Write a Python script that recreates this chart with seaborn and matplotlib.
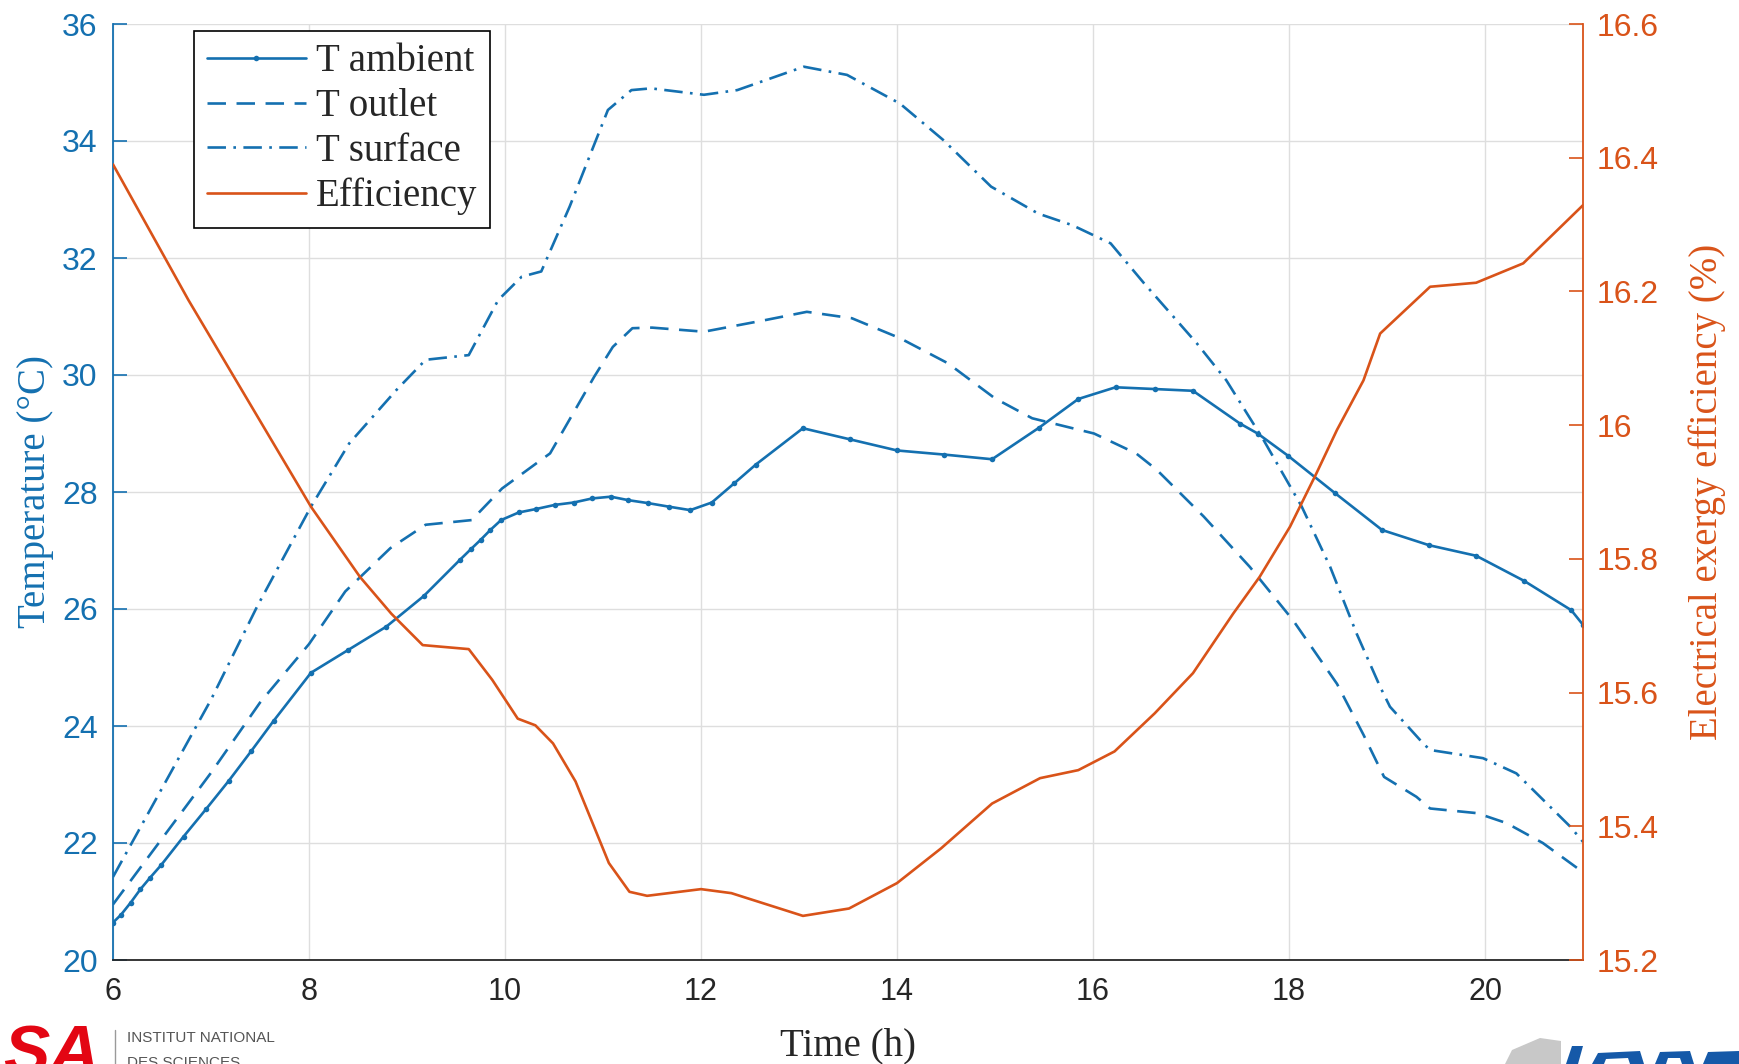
import numpy as np
import pandas as pd
import matplotlib
matplotlib.use("Agg")
import matplotlib.pyplot as plt
import seaborn as sns
from matplotlib.lines import Line2D
from matplotlib.patches import Polygon

# ---------------- data ----------------
t_ambient = [6.0, 6.08, 6.18, 6.28, 6.38, 6.49, 6.72, 6.95, 7.18, 7.41, 7.64, 8.02,
             8.40, 8.79, 9.17, 9.54, 9.65, 9.75, 9.85, 9.96, 10.14, 10.32, 10.51,
             10.70, 10.89, 11.08, 11.26, 11.46, 11.67, 11.89, 12.11, 12.34, 12.56,
             13.04, 13.52, 14.0, 14.48, 14.97, 15.45, 15.85, 16.23, 16.63, 17.02,
             17.5, 17.68, 17.99, 18.47, 18.95, 19.43, 19.91, 20.40, 20.88, 21.0]
T_ambient = [20.64, 20.77, 20.98, 21.21, 21.41, 21.62, 22.11, 22.58, 23.06, 23.57, 24.09, 24.91,
             25.30, 25.70, 26.22, 26.84, 27.02, 27.18, 27.35, 27.52, 27.65, 27.71, 27.78,
             27.82, 27.89, 27.92, 27.86, 27.81, 27.75, 27.69, 27.82, 28.15, 28.47,
             29.09, 28.90, 28.71, 28.64, 28.56, 29.10, 29.59, 29.79, 29.76, 29.73,
             29.17, 29.00, 28.62, 27.98, 27.35, 27.09, 26.91, 26.48, 25.98, 25.73]

t_outlet = [6.0, 7.0, 7.5, 8.0, 8.37, 8.83, 9.19, 9.66, 9.97, 10.32, 10.46, 10.91, 11.10,
            11.30, 11.5, 12.03, 12.66, 13.08, 13.54, 14.03, 14.52, 15.0, 15.38, 16.01,
            16.44, 16.65, 17.13, 17.6, 18.04, 18.49, 18.76, 18.97, 19.30, 19.44, 19.92,
            20.22, 20.59, 21.0]
T_outlet = [20.95, 23.2, 24.4, 25.4, 26.3, 27.04, 27.44, 27.52, 28.06, 28.49, 28.66, 29.97, 30.48,
            30.80, 30.81, 30.74, 30.94, 31.08, 30.97, 30.63, 30.20, 29.60, 29.26, 29.00,
            28.66, 28.38, 27.58, 26.72, 25.81, 24.72, 23.85, 23.13, 22.79, 22.59, 22.51,
            22.34, 22.00, 21.50]

t_surface = [6.0, 7.0, 7.47, 8.02, 8.41, 8.89, 9.19, 9.63, 9.93, 10.17, 10.37, 10.66, 11.05,
             11.29, 11.49, 12.03, 12.37, 13.05, 13.49, 14.03, 14.47, 14.96, 15.44, 15.79,
             16.18, 16.52, 17.06, 17.36, 17.74, 18.13, 18.42, 18.69, 18.93, 19.03, 19.37,
             19.44, 19.98, 20.32, 20.87, 21.0]
T_surface = [21.42, 24.45, 26.04, 27.75, 28.83, 29.74, 30.26, 30.34, 31.28, 31.68, 31.77, 32.88, 34.53,
             34.87, 34.90, 34.79, 34.87, 35.27, 35.13, 34.64, 34.02, 33.22, 32.76, 32.56,
             32.25, 31.57, 30.54, 29.91, 28.89, 27.75, 26.72, 25.58, 24.67, 24.33, 23.70,
             23.59, 23.45, 23.19, 22.28, 22.02]

t_eff = [6.0, 6.77, 8.02, 8.52, 8.84, 9.16, 9.63, 9.87, 10.13, 10.31, 10.49, 10.72, 11.06,
         11.27, 11.45, 12.0, 12.31, 13.04, 13.51, 14.0, 14.45, 14.97, 15.46, 15.85, 16.22,
         16.63, 17.02, 17.43, 17.70, 18.01, 18.28, 18.49, 18.76, 18.93, 19.44, 19.91, 20.39, 21.0]
efficiency = [16.39, 16.187, 15.878, 15.773, 15.718, 15.671, 15.665, 15.619, 15.561, 15.551, 15.524, 15.467, 15.345,
              15.302, 15.296, 15.306, 15.300, 15.266, 15.277, 15.315, 15.367, 15.434, 15.472, 15.484, 15.512,
              15.569, 15.629, 15.718, 15.773, 15.848, 15.928, 15.993, 16.067, 16.137, 16.207, 16.213, 16.242, 16.329]

x_ticks = [6, 8, 10, 12, 14, 16, 18, 20]
left_ticks = [20, 22, 24, 26, 28, 30, 32, 34, 36]
right_ticks = [15.2, 15.4, 15.6, 15.8, 16.0, 16.2, 16.4, 16.6]
right_tick_labels = ["15.2", "15.4", "15.6", "15.8", "16", "16.2", "16.4", "16.6"]
series_labels = ["T ambient", "T outlet", "T surface", "Efficiency"]

# ---------------- style ----------------
sns.set_style("white")
plt.rcParams['font.family'] = ['Liberation Sans', 'DejaVu Sans']

BLUE = "#1470b0"
ORANGE = "#D95319"
DARK = "#262626"
SERIF = "Liberation Serif"

fig = plt.figure(figsize=(17.39, 10.64), dpi=100)
ax = fig.add_axes([113 / 1739, 1 - 960 / 1064, 1470 / 1739, 936 / 1064])
ax2 = ax.twinx()

common = dict(sort=False, estimator=None, legend=False)
sns.lineplot(x=t_ambient, y=T_ambient, ax=ax, color=BLUE, linewidth=1.9,
             marker='o', markersize=4, markeredgewidth=0, **common)
sns.lineplot(x=t_outlet, y=T_outlet, ax=ax, color=BLUE, linewidth=1.9,
             linestyle=(0, (7, 4)), **common)
sns.lineplot(x=t_surface, y=T_surface, ax=ax, color=BLUE, linewidth=1.9,
             linestyle=(0, (7, 2.8, 1, 2.8)), **common)
sns.lineplot(x=t_eff, y=efficiency, ax=ax2, color=ORANGE, linewidth=1.9, **common)

# axes limits & ticks
ax.set_xlim(6, 21)
ax.set_ylim(20, 36)
ax2.set_ylim(15.2, 16.6)
ax.set_xticks(x_ticks)
ax.set_yticks(left_ticks)
ax2.set_yticks(right_ticks)
ax2.set_yticklabels(right_tick_labels)

ax.grid(True, color="#dedede", linewidth=1.0)
ax.set_axisbelow(True)
ax2.grid(False)

for a in (ax, ax2):
    a.spines['top'].set_visible(False)
ax.spines['right'].set_visible(False)
ax2.spines['left'].set_visible(False)
ax2.spines['bottom'].set_visible(False)
ax.spines['left'].set_color(BLUE)
ax.spines['bottom'].set_color(DARK)
ax2.spines['right'].set_color(ORANGE)
for s in (ax.spines['left'], ax.spines['bottom'], ax2.spines['right']):
    s.set_linewidth(1.3)

ax.tick_params(axis='x', direction='in', length=10, width=1.2, colors=DARK,
               labelsize=22, pad=12, top=False)
ax.tick_params(axis='y', direction='in', length=10, width=1.2, colors=BLUE,
               labelsize=23, pad=11, right=False)
ax2.tick_params(axis='y', direction='in', length=10, width=1.2, colors=ORANGE,
                labelsize=23, pad=10)

ax.set_xlabel("Time (h)", fontfamily=SERIF, fontsize=28, color=DARK, labelpad=15)
ax.set_ylabel("Temperature (°C)", fontfamily=SERIF, fontsize=28, color=BLUE, labelpad=6)
ax2.set_ylabel("Electrical exergy efficiency (%)", fontfamily=SERIF, fontsize=28,
               color=ORANGE, labelpad=21)

handles = list(ax.lines) + list(ax2.lines)
leg = ax2.legend(handles, series_labels, loc='upper left', bbox_to_anchor=(0.055, 0.993),
                 prop={'family': SERIF, 'size': 28}, frameon=True, fancybox=False,
                 edgecolor='black', framealpha=1, handlelength=2.55, handletextpad=0.26,
                 borderpad=0.33, labelspacing=0.2, borderaxespad=0, numpoints=1)
leg.get_frame().set_linewidth(1.2)

# ---------------- watermark logos (partially cropped in the reference) ----------------
fig.text(100 / 1739, 1 - 1024 / 1064, "SA", ha='right', va='top', color='#e30613',
         fontsize=50, fontweight='bold', fontstyle='italic')
fig.add_artist(Line2D([115 / 1739, 115 / 1739], [1 - 1030 / 1064, 0],
                      transform=fig.transFigure, color='#9a9a9a', linewidth=1))
fig.text(127 / 1739, 1 - 1038 / 1064, "INSTITUT NATIONAL", ha='left', va='center',
         color='#555555', fontsize=11, family=['Liberation Sans Narrow', 'Liberation Sans'])
fig.text(127 / 1739, 1 - 1056 / 1064, "DES SCIENCES", ha='left', va='top',
         color='#555555', fontsize=11, family=['Liberation Sans Narrow', 'Liberation Sans'])
gray = Polygon([[1505 / 1739, 0], [1512 / 1739, 1 - 1050 / 1064], [1540 / 1739, 1 - 1038 / 1064],
                [1561 / 1739, 1 - 1041 / 1064], [1561 / 1739, 0]],
               closed=True, transform=fig.transFigure, facecolor='#c8c8c8', edgecolor='none')
fig.add_artist(gray)
blue_shapes = [
    [[1566, 1064], [1572, 1046], [1583, 1046], [1578, 1064]],
    [[1592, 1064], [1598, 1053], [1640, 1051], [1644, 1064], [1630, 1064], [1628, 1058], [1606, 1059], [1604, 1064]],
    [[1655, 1064], [1660, 1052], [1690, 1051], [1694, 1064], [1682, 1064], [1680, 1058], [1668, 1058], [1666, 1064]],
    [[1703, 1064], [1708, 1052], [1739, 1051], [1739, 1064]],
]
for pts in blue_shapes:
    fig.add_artist(Polygon([[px / 1739, 1 - py / 1064] for px, py in pts], closed=True,
                           transform=fig.transFigure, facecolor='#1559a8', edgecolor='none'))

fig.savefig("out.png", dpi=100)
